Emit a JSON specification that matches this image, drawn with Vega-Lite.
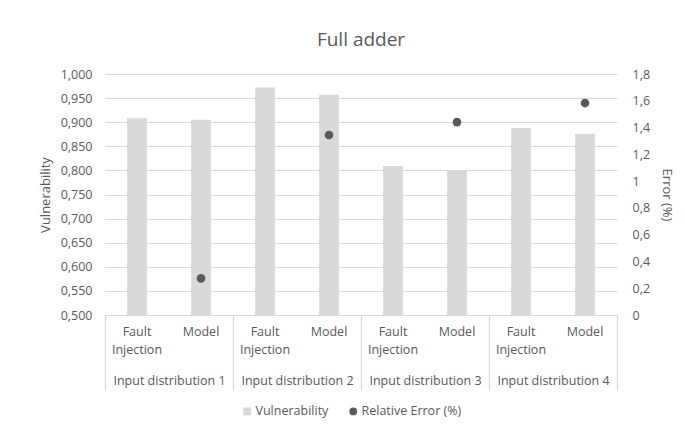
{
  "$schema": "https://vega.github.io/schema/vega-lite/v6.json",
  "width": 512,
  "height": 241,
  "autosize": {"type": "none"},
  "padding": {"left": 105, "top": 74, "right": 68, "bottom": 119},
  "background": "white",
  "config": {
    "font": "Open Sans",
    "view": {"stroke": null},
    "axis": {"labelColor": "#595959", "titleColor": "#595959", "labelFontSize": 12.5, "titleFontSize": 13, "titleFontWeight": "normal", "domain": false, "ticks": false, "labelFont": "Open Sans", "titleFont": "Open Sans"},
    "legend": {"labelColor": "#595959", "labelFontSize": 12.5, "labelFont": "Open Sans"}
  },
  "title": {"text": "Full adder", "fontSize": 19, "fontWeight": "normal", "color": "#595959", "font": "Open Sans", "offset": 18, "anchor": "middle"},
  "datasets": {
    "main": [
      {"cat": "FI1", "group": "Input distribution 1", "vulnerability": 0.908, "error": null},
      {"cat": "M1", "group": "Input distribution 1", "vulnerability": 0.905, "error": 0.274},
      {"cat": "FI2", "group": "Input distribution 2", "vulnerability": 0.972, "error": null},
      {"cat": "M2", "group": "Input distribution 2", "vulnerability": 0.957, "error": 1.344},
      {"cat": "FI3", "group": "Input distribution 3", "vulnerability": 0.809, "error": null},
      {"cat": "M3", "group": "Input distribution 3", "vulnerability": 0.801, "error": 1.441},
      {"cat": "FI4", "group": "Input distribution 4", "vulnerability": 0.888, "error": null},
      {"cat": "M4", "group": "Input distribution 4", "vulnerability": 0.876, "error": 1.583}
    ]
  },
  "data": {"name": "main"},
  "layer": [
    {
      "layer": [
        {
          "mark": {"type": "bar", "width": {"band": 0.31}},
          "encoding": {
            "x": {"field": "cat", "type": "nominal", "sort": null,
              "scale": {"paddingInner": 0, "paddingOuter": 0},
              "axis": {"title": null, "orient": "bottom", "labelAngle": 0, "labelPadding": 10, "labelBaseline": "top", "labelLineHeight": 18,
                "labelExpr": "indexof(datum.value, 'FI') == 0 ? ['Fault', 'Injection'] : 'Model'"}},
            "y": {"field": "vulnerability", "type": "quantitative",
              "scale": {"domain": [0.5, 1.0], "zero": false, "nice": false},
              "axis": {"title": "Vulnerability", "values": [0.5,0.55,0.6,0.65,0.7,0.75,0.8,0.85,0.9,0.95,1.0],
                "labelExpr": "replace(format(datum.value, '.3f'), '.', ',')", "labelPadding": 13, "titlePadding": 8,
                "gridColor": "#d9d9d9", "gridWidth": 1.2}},
            "y2": {"datum": 0.5},
            "color": {"datum": "Vulnerability", "type": "nominal",
              "scale": {"domain": ["Vulnerability", "Relative Error (%)"], "range": ["#d9d9d9", "#595959"]},
              "legend": {"title": null, "orient": "none", "legendX": 136, "legendY": 331, "direction": "horizontal", "symbolType": "square", "symbolSize": 60, "columnPadding": 18, "labelOffset": 2}}
          }
        },
        {
          "mark": {"type": "point", "filled": true, "size": 75, "opacity": 1},
          "encoding": {
            "x": {"field": "cat", "type": "nominal", "sort": null},
            "y": {"field": "error", "type": "quantitative",
              "scale": {"domain": [0, 1.8], "nice": false},
              "axis": {"title": "Error (%)", "orient": "right", "grid": false, "values": [0,0.2,0.4,0.6,0.8,1,1.2,1.4,1.6,1.8],
                "labelExpr": "replace(format(datum.value, '.1~f'), '.', ',')", "labelPadding": 15, "titlePadding": 10}},
            "color": {"datum": "Relative Error (%)", "type": "nominal"},
            "shape": {"datum": "Relative Error (%)", "type": "nominal",
              "scale": {"domain": ["Vulnerability", "Relative Error (%)"], "range": ["square", "circle"]}}
          }
        }
      ],
      "resolve": {"scale": {"y": "independent"}}
    },
    {
      "mark": {"type": "tick", "opacity": 0},
      "encoding": {
        "x": {"field": "group", "type": "nominal", "sort": null,
          "scale": {"paddingInner": 0, "paddingOuter": 0},
          "axis": {"title": null, "orient": "bottom", "labelAngle": 0, "ticks": true, "tickBand": "extent", "tickSize": 75, "tickColor": "#d9d9d9", "tickWidth": 1.2,
            "domain": true, "domainColor": "#d9d9d9", "labelPadding": -3, "labelBaseline": "bottom"}}
      }
    }
  ],
  "resolve": {"scale": {"x": "independent"}}
}
